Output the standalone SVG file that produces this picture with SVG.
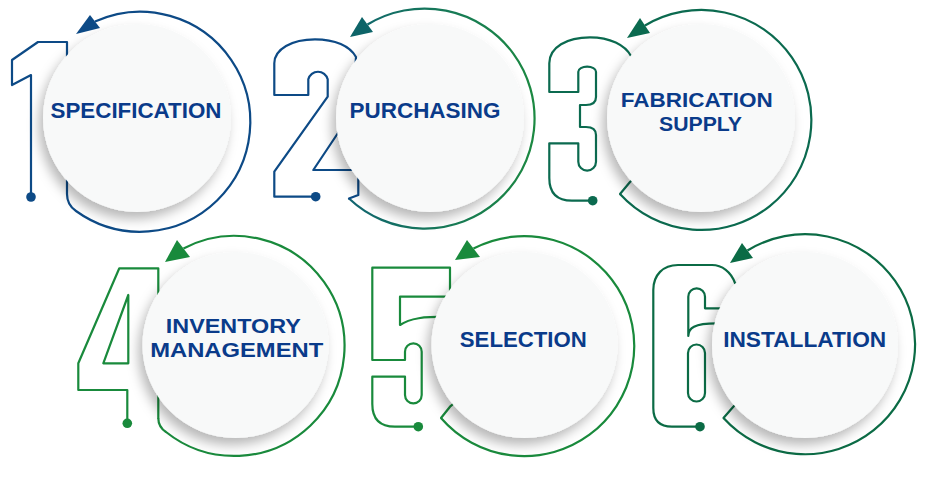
<svg xmlns="http://www.w3.org/2000/svg" width="934" height="500" viewBox="0 0 934 500">
<defs>
<filter id="sh" x="-25%" y="-25%" width="150%" height="160%">
<feDropShadow dx="-4" dy="7" stdDeviation="6" flood-color="#000" flood-opacity="0.28"/>
</filter>
<linearGradient id="g2" gradientUnits="userSpaceOnUse" x1="320" y1="0" x2="540" y2="0">
<stop offset="0" stop-color="#0f5c78"/>
<stop offset="0.35" stop-color="#137063"/>
<stop offset="1" stop-color="#1c8a40"/>
</linearGradient>
<style>
.digit{fill:none;stroke-width:2.2;stroke-linejoin:round;stroke-linecap:round}
.ring{fill:none;stroke-width:2.2}
.disc{fill:#f8f9f9;filter:url(#sh)}
.label{font-family:"Liberation Sans",Arial,sans-serif;font-weight:bold;font-size:22.5px;fill:#0a3b8a;text-anchor:middle}
.two{font-size:21px}
.blue{stroke:#0d4a86}
.teal{stroke:#0b6a4f}
.green{stroke:#198a3c}
.dgreen{stroke:#0b6b45}
</style>
</defs>
<rect width="934" height="500" fill="#ffffff"/>

<g id="connectors">
<path class="ring blue" d="M67,194 Q67,205 76,211 A110,110 0 1 0 95,21.5"/>
<polygon points="76,34 90,15 100,28" fill="#0d4a86"/>
<path class="ring" stroke="url(#g2)" d="M349,198.5 A110,110 0 1 0 367.5,24.5"/>
<polygon points="350,37 362,17 373,32" fill="#0d6468"/>
<path class="ring teal" d="M620,194 A110,110 0 1 0 645,25.5"/>
<polygon points="627,38 640,18 650,33" fill="#0b6a4f"/>
<path class="ring green" d="M158.3,418 Q158.3,427 166,432 A110,110 0 1 0 183.5,248.5"/>
<polygon points="165,262 177,240 190,257" fill="#198a3c"/>
<path class="ring green" d="M441,418 A110,110 0 1 0 473.5,248.5"/>
<polygon points="455,260 467,240 480,257" fill="#198a3c"/>
<path class="ring dgreen" d="M723.5,418 A110,110 0 1 0 747.5,250.5"/>
<polygon points="730,263 742,243 753,258" fill="#0b6b45"/>
</g>

<g id="step1">
<path class="digit blue" d="M31,197 V75 L12,85 V60 L38,42 H67 V194"/>
<circle cx="31" cy="197" r="4.8" fill="#0d4a86"/>
<circle class="disc" cx="137" cy="118" r="94"/>
<text class="label" x="136" y="118.3" textLength="171" lengthAdjust="spacingAndGlyphs">SPECIFICATION</text>
</g>

<g id="step2">
<path class="digit blue" d="M315.7,196.7 H274.3 V171.7 L327.7,96.7 V79.3 A10,10 0 0 0 308.3,79.3 V95 H274.3 V63.3 C274.3,49 292,39.3 315,39.3 C335,39.3 350,46 356,57 L352,112 L313.3,170 H358.3 V195 L349,198.5"/>
<circle cx="315.7" cy="196.7" r="4.8" fill="#0d4a86"/>
<circle class="disc" cx="430" cy="118" r="94"/>
<text class="label" x="425" y="118.3" textLength="151" lengthAdjust="spacingAndGlyphs">PURCHASING</text>
</g>

<g id="step3">
<path class="digit teal" d="M592.7,200.7 H572 Q549.3,200.7 549.3,178 V143.3 H578.3 V161.7 A8.85,8.85 0 0 0 596,161.7 V135 Q596,127 586,127 H580 V105 H586 Q596,105 596,97 V71.7 A8.85,5 0 0 0 578.3,71.7 V92 H549.3 V63.3 C549.3,47 567,37.3 590,37.3 C610,37.3 625,45 631,56 L660,100 L640,120 L665,150 L630,182 L620,194"/>
<circle cx="592.7" cy="200.7" r="4.8" fill="#0b6a4f"/>
<circle class="disc" cx="701" cy="118" r="94"/>
<text class="label two" x="696.7" y="106.8" textLength="152" lengthAdjust="spacingAndGlyphs">FABRICATION</text>
<text class="label two" x="700.5" y="130.8" textLength="83" lengthAdjust="spacingAndGlyphs">SUPPLY</text>
</g>

<g id="step4">
<path class="digit green" d="M127.3,423.3 V390 H78.3 V363.3 L119.3,268.3 H158.3 V418"/>
<path class="digit green" d="M103.3,363.3 L128.3,295 V363.3 Z"/>
<circle cx="127.3" cy="423.3" r="4.8" fill="#198a3c"/>
<circle class="disc" cx="235.5" cy="345" r="93"/>
<text class="label two" x="233.3" y="332.8" textLength="135" lengthAdjust="spacingAndGlyphs">INVENTORY</text>
<text class="label two" x="236.7" y="356.5" textLength="173" lengthAdjust="spacingAndGlyphs">MANAGEMENT</text>
</g>

<g id="step5">
<path class="digit green" d="M418.3,426.7 H395 Q372.3,426.7 372.3,404 V376.7 H405 V395 A8.35,8.35 0 0 0 421.7,395 V351.7 A8.35,8.35 0 0 0 405,351.7 V360 H372.3 V267.7 H450 V296.7 H400 V325 C410,318 425,316.7 445,316.7 L470,330 L470,390 L450,406.7 L441,418"/>
<circle cx="418.3" cy="426.7" r="4.8" fill="#198a3c"/>
<circle class="disc" cx="524.5" cy="345" r="93"/>
<text class="label" x="523.3" y="346.7" textLength="127" lengthAdjust="spacingAndGlyphs">SELECTION</text>
</g>

<g id="step6">
<path class="digit dgreen" d="M700,426.7 H672 Q653.3,426.7 653.3,408 V290 C653.3,275 663,265 678,265 H712 C722,265 731,272 735,283 L760,300 V308.3 H705 V296.7 A8.35,8.35 0 0 0 688.3,296.7 V336 C688.3,328 694,323.3 716.7,323.3 L760,323 V390 L740,400 L733.3,406.7 L723.5,418"/>
<path class="digit dgreen" d="M688,353 V393 A8.5,8.5 0 0 0 705,393 V353 A8.5,8.5 0 0 0 688,353 Z"/>
<circle cx="700" cy="426.7" r="4.8" fill="#0b6b45"/>
<circle class="disc" cx="805" cy="345" r="93"/>
<text class="label" x="804.7" y="346.7" textLength="163" lengthAdjust="spacingAndGlyphs">INSTALLATION</text>
</g>
</svg>
